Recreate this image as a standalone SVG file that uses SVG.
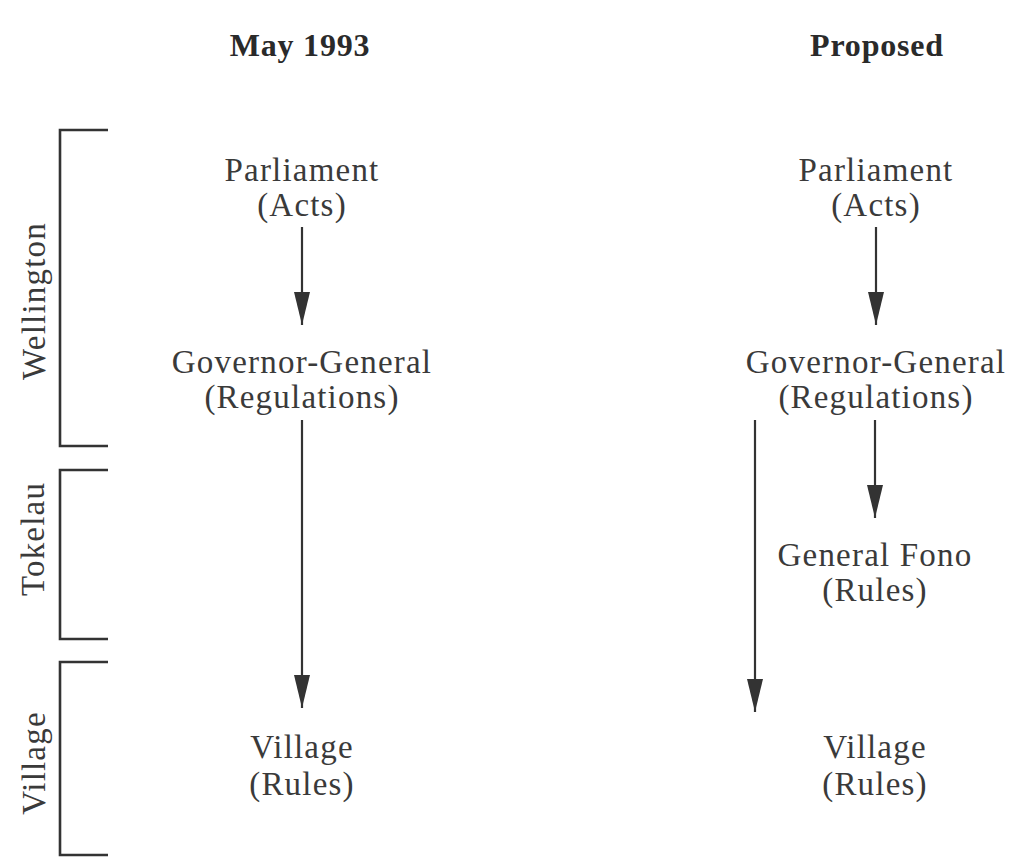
<svg xmlns="http://www.w3.org/2000/svg" width="1011" height="857" viewBox="0 0 1011 857">
<style>
.t{font-family:"Liberation Serif","Times New Roman",serif;font-size:33px;fill:#3a3a3a;text-anchor:middle;letter-spacing:1.2px}
.h{font-family:"Liberation Serif","Times New Roman",serif;font-size:32px;font-weight:bold;fill:#2a2a2a;text-anchor:middle;letter-spacing:0.8px}
.br{fill:none;stroke:#333;stroke-width:2.6}
.ar{fill:none;stroke:#333;stroke-width:2.2;marker-end:url(#ah)}
</style>
<defs>
<marker id="ah" markerUnits="userSpaceOnUse" viewBox="0 -9 34 18" markerWidth="34" markerHeight="18" refX="33" refY="0" orient="auto">
<path d="M0,-8 L33,0 L0,8 Z" fill="#333"/>
</marker>
</defs>
<rect width="1011" height="857" fill="#fff"/>
<g id="titles">
<text class="h" x="300" y="56">May 1993</text>
<text class="h" x="877" y="56">Proposed</text>
</g>
<g id="levels">
<g id="wellington"><path class="br" d="M108,130 H60 V446 H108"/><text class="t" transform="translate(45,301) rotate(-90)">Wellington</text></g>
<g id="tokelau"><path class="br" d="M108,470 H60 V639 H108"/><text class="t" transform="translate(44,539) rotate(-90)">Tokelau</text></g>
<g id="village-level"><path class="br" d="M108,662 H60 V855 H108"/><text class="t" transform="translate(45,763) rotate(-90)">Village</text></g>
</g>
<g id="left-parliament"><text class="t" x="302" y="181">Parliament</text><text class="t" x="302" y="216">(Acts)</text></g>
<g id="left-gg"><text class="t" x="302" y="373">Governor-General</text><text class="t" x="302" y="408">(Regulations)</text></g>
<g id="left-village"><text class="t" x="302" y="758">Village</text><text class="t" x="302" y="795">(Rules)</text></g>
<g id="right-parliament"><text class="t" x="876" y="181">Parliament</text><text class="t" x="876" y="216">(Acts)</text></g>
<g id="right-gg"><text class="t" x="876" y="373">Governor-General</text><text class="t" x="876" y="408">(Regulations)</text></g>
<g id="right-fono"><text class="t" x="875" y="566">General Fono</text><text class="t" x="875" y="601">(Rules)</text></g>
<g id="right-village"><text class="t" x="875" y="758">Village</text><text class="t" x="875" y="795">(Rules)</text></g>
<g id="connectors">
<line class="ar" x1="302" y1="227" x2="302" y2="325"/>
<line class="ar" x1="302" y1="420" x2="302" y2="708"/>
<line class="ar" x1="876" y1="227" x2="876" y2="325"/>
<line class="ar" x1="875" y1="420" x2="875" y2="518"/>
<line class="ar" x1="755" y1="420" x2="755" y2="712"/>
</g>
</svg>
